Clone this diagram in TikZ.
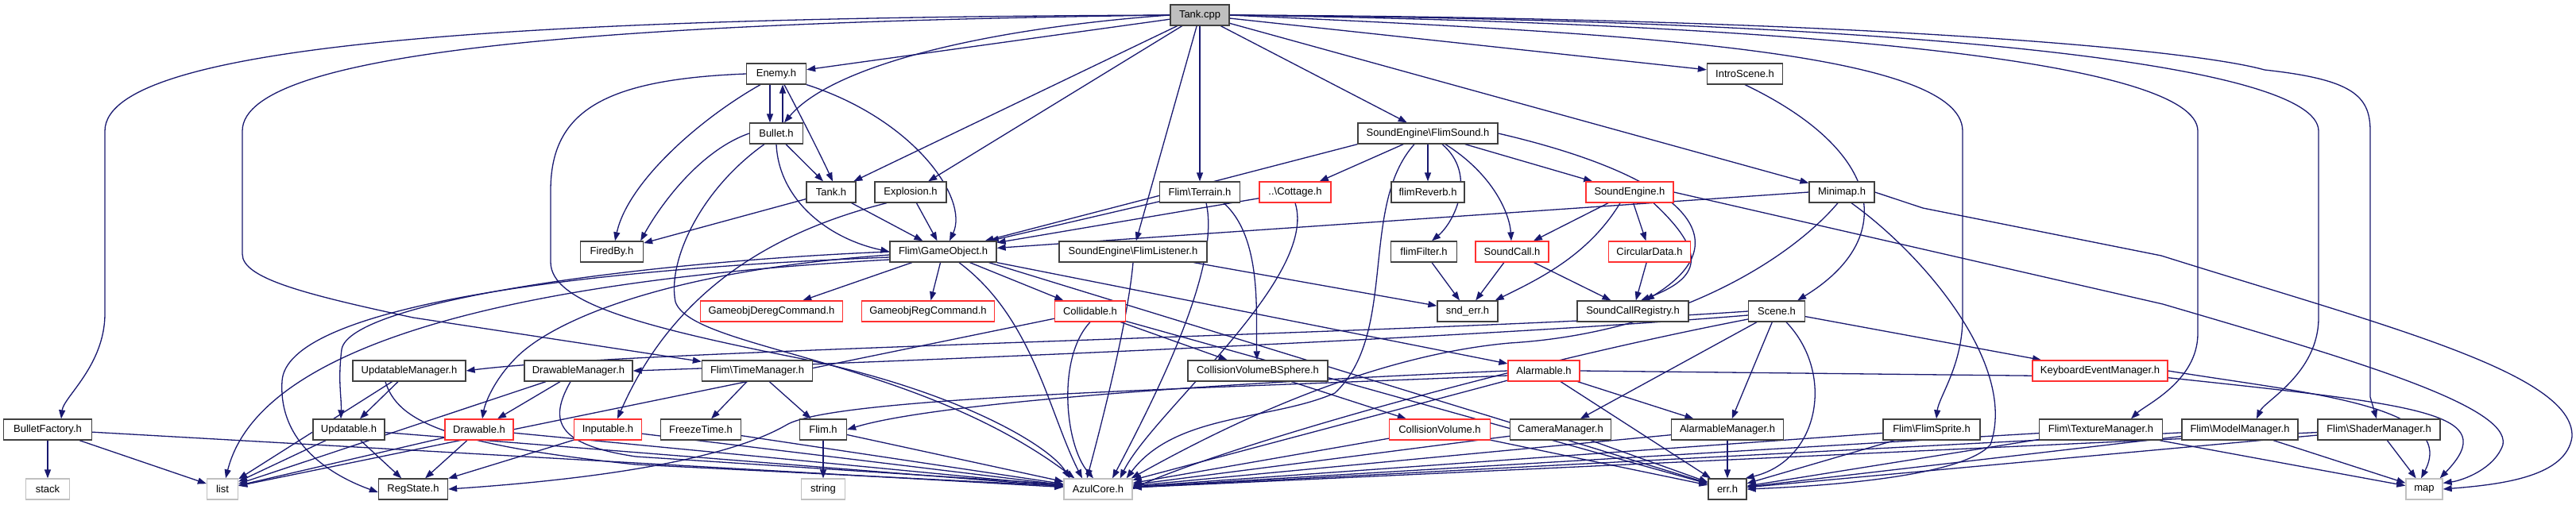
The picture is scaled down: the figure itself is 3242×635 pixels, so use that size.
\documentclass[tikz,border=0pt]{standalone}
\usepackage{fontspec}
\setmainfont{Liberation Sans}
\usetikzlibrary{arrows.meta}
\definecolor{edgec}{HTML}{191970}
\definecolor{redb}{HTML}{FF3030}
\definecolor{grayb}{HTML}{C0C0C0}
\definecolor{blackb}{HTML}{404040}
\definecolor{rootf}{HTML}{BFBFBF}
\pgfdeclarelayer{bg}
\pgfdeclarelayer{paper}
\pgfsetlayers{paper,bg,main}
\tikzset{
  box/.style={draw=blackb, line width=1.3pt, fill=white, minimum height=26pt, inner sep=0pt, font=\fontsize{13}{15}\selectfont},
  redbox/.style={box, draw=redb},
  graybox/.style={box, draw=grayb},
  rootbox/.style={box, fill=rootf},
  e/.style={draw=edgec, line width=1.3pt, -{Triangle[length=11pt,width=8pt]}},
}
\newcommand\edg[2]{\draw[e] (#1) -- (#2);}
\begin{document}
\begin{tikzpicture}[x=1pt,y=1pt]
\begin{pgfonlayer}{paper}
\fill[white] (0,0) rectangle (3242,-635);
\end{pgfonlayer}
\useasboundingbox (0,0) rectangle (3242,-635);
% row 0
\node[rootbox, minimum width=74pt] (tankcpp) at (1510,-19) {Tank.cpp};
% row 1
\node[box, minimum width=75pt] (enemy) at (977,-93) {Enemy.h};
\node[box, minimum width=95pt] (intro) at (2196,-93) {IntroScene.h};
% row 2
\node[box, minimum width=67pt] (bullet) at (977,-168) {Bullet.h};
\node[box, minimum width=176pt] (flimsound) at (1797,-168) {SoundEngine\textbackslash FlimSound.h};
% row 3
\node[box, minimum width=62pt] (tankh) at (1046,-242) {Tank.h};
\node[box, minimum width=90pt] (explosion) at (1146,-242) {Explosion.h};
\node[box, minimum width=101pt] (terrain) at (1510,-242) {Flim\textbackslash Terrain.h};
\node[redbox, minimum width=90pt] (cottage) at (1630,-242) {..\textbackslash Cottage.h};
\node[box, minimum width=92pt] (reverb) at (1797,-242) {flimReverb.h};
\node[redbox, minimum width=110pt] (soundengine) at (2051,-242) {SoundEngine.h};
\node[box, minimum width=82pt] (minimap) at (2318,-242) {Minimap.h};
% row 4
\node[box, minimum width=79pt] (firedby) at (770,-317) {FiredBy.h};
\node[box, minimum width=134pt] (gameobject) at (1187,-317) {Flim\textbackslash GameObject.h};
\node[box, minimum width=186pt] (listener) at (1426,-317) {SoundEngine\textbackslash FlimListener.h};
\node[box, minimum width=83pt] (filter) at (1792,-317) {flimFilter.h};
\node[redbox, minimum width=92pt] (soundcall) at (1903,-317) {SoundCall.h};
\node[redbox, minimum width=103pt] (circular) at (2076,-317) {CircularData.h};
% row 5
\node[redbox, minimum width=179pt] (dereg) at (971,-392) {GameobjDeregCommand.h};
\node[redbox, minimum width=167pt] (regcmd) at (1168,-392) {GameobjRegCommand.h};
\node[redbox, minimum width=89pt] (collidable) at (1372,-392) {Collidable.h};
\node[box, minimum width=76pt] (snderr) at (1847,-392) {snd\_err.h};
\node[box, minimum width=140pt] (registry) at (2055,-392) {SoundCallRegistry.h};
\node[box, minimum width=71pt] (scene) at (2236,-392) {Scene.h};
% row 6
\node[box, minimum width=142pt] (updmgr) at (515,-467) {UpdatableManager.h};
\node[box, minimum width=136pt] (drawmgr) at (728,-467) {DrawableManager.h};
\node[box, minimum width=139pt] (timemgr) at (953,-467) {Flim\textbackslash TimeManager.h};
\node[box, minimum width=176pt] (bsphere) at (1583,-467) {CollisionVolumeBSphere.h};
\node[redbox, minimum width=90pt] (alarmable) at (1943,-467) {Alarmable.h};
\node[redbox, minimum width=170pt] (keyboard) at (2643,-467) {KeyboardEventManager.h};
% row 7
\node[box, minimum width=111pt] (bulletfactory) at (60,-541) {BulletFactory.h};
\node[box, minimum width=90pt] (updatable) at (439,-541) {Updatable.h};
\node[redbox, minimum width=86pt] (drawable) at (603,-541) {Drawable.h};
\node[redbox, minimum width=85pt] (inputable) at (765,-541) {Inputable.h};
\node[box, minimum width=101pt] (freeze) at (882,-541) {FreezeTime.h};
\node[box, minimum width=59pt] (flimh) at (1036,-541) {Flim.h};
\node[redbox, minimum width=127pt] (colvol) at (1812,-541) {CollisionVolume.h};
\node[box, minimum width=127pt] (camera) at (1964,-541) {CameraManager.h};
\node[box, minimum width=141pt] (alarmmgr) at (2174,-541) {AlarmableManager.h};
\node[box, minimum width=122pt] (sprite) at (2431,-541) {Flim\textbackslash FlimSprite.h};
\node[box, minimum width=155pt] (texture) at (2644,-541) {Flim\textbackslash TextureManager.h};
\node[box, minimum width=146pt] (model) at (2819,-541) {Flim\textbackslash ModelManager.h};
\node[box, minimum width=154pt] (shader) at (2994,-541) {Flim\textbackslash ShaderManager.h};
% row 8
\node[graybox, minimum width=55pt] (stack) at (60,-616) {stack};
\node[graybox, minimum width=39pt] (list) at (280,-616) {list};
\node[box, minimum width=87pt] (regstate) at (520,-616) {RegState.h};
\node[graybox, minimum width=55pt] (string) at (1036,-616) {string};
\node[graybox, minimum width=86pt] (azul) at (1382,-616) {AzulCore.h};
\node[box, minimum width=48pt] (err) at (2174,-616) {err.h};
\node[graybox, minimum width=46pt] (map) at (3051,-616) {map};

\begin{pgfonlayer}{bg}
% Tank.cpp
\edg{tankcpp}{enemy}
\draw[e] (tankcpp.west) .. controls (1250,-35) and (1050,-80) .. ([xshift=10pt]bullet.north);
\edg{tankcpp}{tankh}
\edg{tankcpp}{explosion}
\edg{tankcpp}{terrain}
\edg{tankcpp}{listener}
\edg{tankcpp}{flimsound}
\edg{tankcpp}{intro}
\edg{tankcpp}{minimap}
\draw[e] (tankcpp.west) .. controls (700,-22) and (132,-50) .. (132,-165) -- (132,-395) .. controls (132,-460) and (80,-500) .. ([xshift=17pt]bulletfactory.north);
\draw[e] (tankcpp.west) .. controls (800,-28) and (305,-60) .. (305,-165) -- (305,-320) .. controls (305,-350) and (380,-370) .. (520,-400) -- ([yshift=-2pt]timemgr.north west);
\draw[e] (tankcpp.east) .. controls (2000,-40) and (2470,-60) .. (2470,-165) -- (2470,-400) .. controls (2470,-460) and (2440,-500) .. ([xshift=6pt]sprite.north);
\draw[e] (tankcpp.east) .. controls (2300,-30) and (2766,-80) .. (2766,-165) -- (2766,-420) .. controls (2766,-480) and (2700,-510) .. ([xshift=38pt]texture.north);
\draw[e] (tankcpp.east) .. controls (2400,-25) and (2918,-80) .. (2918,-165) -- (2918,-400) .. controls (2918,-470) and (2850,-505) .. ([xshift=21pt]model.north);
\draw[e] (tankcpp.east) .. controls (2300,-22) and (2750,-60) .. (2850,-88) .. controls (2960,-100) and (2983,-120) .. (2983,-165) -- (2983,-500) -- ([xshift=-3pt]shader.north);
% Enemy / Bullet
\draw[e] ([xshift=-8pt]enemy.south) -- ([xshift=-8pt]bullet.north);
\draw[e] ([xshift=8pt]bullet.north) -- ([xshift=8pt]enemy.south);
\draw[e] ([xshift=10pt]enemy.south) .. controls (1010,-150) and (1035,-200) .. ([xshift=2pt]tankh.north);
\draw[e] (enemy.south east) .. controls (1150,-150) and (1220,-250) .. ([xshift=8pt]gameobject.north);
\draw[e] ([xshift=-20pt]enemy.south) .. controls (880,-150) and (790,-230) .. ([xshift=4pt]firedby.north);
\draw[e] (enemy.west) .. controls (760,-100) and (693,-140) .. (693,-240) -- (693,-330) .. controls (693,-380) and (800,-410) .. (1000,-450) .. controls (1200,-490) and (1320,-560) .. ([xshift=8pt]azul.north west);
\draw[e] (bullet.west) .. controls (880,-190) and (830,-260) .. ([xshift=-4pt]firedby.north east);
\draw[e] ([xshift=12pt]bullet.south) -- ([xshift=-10pt]tankh.north);
\draw[e] (bullet.south) .. controls (980,-250) and (1040,-300) .. (gameobject.west);
\draw[e] ([xshift=-15pt]bullet.south) .. controls (880,-240) and (840,-330) .. (850,-380) .. controls (870,-440) and (1150,-450) .. ([xshift=14pt]azul.north west);
\edg{tankh}{firedby}
\edg{tankh}{gameobject}
\edg{explosion}{gameobject}
\draw[e] ([xshift=-30pt]explosion.south) .. controls (980,-290) and (850,-360) .. ([xshift=12pt]inputable.north);
% Terrain, Cottage
\edg{terrain}{gameobject}
\draw[e] ([xshift=8pt]terrain.south) .. controls (1535,-330) and (1470,-470) .. ([xshift=18pt]azul.north);
\draw[e] ([xshift=30pt]terrain.south) .. controls (1590,-300) and (1580,-400) .. ([xshift=-1pt]bsphere.north);
\edg{cottage}{gameobject}
\draw[e] (cottage.south) .. controls (1660,-350) and (1450,-520) .. ([xshift=-16pt]azul.north east);
% FlimSound
\edg{flimsound.south west}{gameobject}
\edg{flimsound}{cottage}
\edg{flimsound}{reverb}
\draw[e] ([xshift=18pt]flimsound.south) .. controls (1860,-220) and (1830,-280) .. ([xshift=10pt]filter.north);
\draw[e] ([xshift=22pt]flimsound.south) .. controls (1880,-220) and (1900,-270) .. ([xshift=-1pt]soundcall.north);
\edg{flimsound}{soundengine}
\draw[e] ([xshift=-17pt]flimsound.south) .. controls (1710,-260) and (1760,-420) .. (1680,-495) .. controls (1600,-530) and (1480,-520) .. ([xshift=-8pt]azul.north east);
\draw[e] (flimsound.east) .. controls (2110,-220) and (2200,-300) .. ([xshift=16pt]registry.north);
% SoundEngine
\edg{soundengine}{soundcall}
\edg{soundengine}{circular}
\draw[e] ([xshift=-12pt]soundengine.south) .. controls (2000,-320) and (1940,-350) .. ([xshift=-4pt]snderr.north east);
\draw[e] ([xshift=30pt]soundengine.south) .. controls (2150,-320) and (2140,-350) .. ([xshift=10pt]registry.north);
\draw[e] (soundengine.east) -- (2722,-383) .. controls (2950,-450) and (3160,-510) .. (3150,-560) .. controls (3140,-590) and (3100,-605) .. ([yshift=-6pt]map.north east);
% Minimap
\edg{minimap.west}{gameobject}
\draw[e] ([xshift=-5pt]minimap.south) .. controls (2250,-330) and (2100,-420) .. (1900,-432) .. controls (1700,-450) and (1500,-560) .. ([xshift=-2pt]azul.north east);
\draw[e] ([xshift=12pt]minimap.south) .. controls (2420,-320) and (2540,-460) .. (2505,-560) .. controls (2470,-600) and (2300,-612) .. (err.east);
\draw[e] (minimap.east) -- (2420,-262) -- (2720,-322) .. controls (3000,-410) and (3240,-470) .. (3237,-550) .. controls (3230,-600) and (3150,-610) .. (map.east);
% Listener, sound leaves
\draw[e] (listener.south) .. controls (1420,-400) and (1390,-520) .. ([xshift=-14pt]azul.north);
\edg{listener}{snderr}
\edg{filter}{snderr}
\edg{soundcall}{snderr}
\edg{soundcall}{registry}
\edg{circular}{registry}
\draw[e] (intro.south) .. controls (2370,-190) and (2390,-300) .. ([xshift=-10pt]scene.north east);
% GameObject
\edg{gameobject}{dereg}
\edg{gameobject}{regcmd}
\edg{gameobject}{collidable}
\draw[e] ([xshift=20pt]gameobject.south) .. controls (1300,-400) and (1320,-520) .. ([xshift=-20pt]azul.north);
\edg{gameobject.south east}{alarmable}
\draw[e] ([xshift=-10pt]gameobject.south east) -- (err);
\draw[e] (gameobject.west) .. controls (800,-330) and (440,-380) .. (430,-440) .. controls (425,-480) and (430,-500) .. ([xshift=-10pt]updatable.north);
\draw[e] ([yshift=-4pt]gameobject.west) .. controls (850,-340) and (700,-400) .. (650,-450) .. controls (620,-480) and (610,-510) .. ([xshift=4pt]drawable.north);
\draw[e] ([yshift=-7pt]gameobject.west) .. controls (700,-340) and (360,-390) .. (355,-480) .. controls (350,-560) and (420,-600) .. ([yshift=-4pt]regstate.west);
\draw[e] ([yshift=-10pt]gameobject.west) .. controls (700,-350) and (330,-420) .. ([xshift=4pt]list.north);
% Collidable
\edg{collidable}{list}
\draw[e] (collidable.south) .. controls (1330,-450) and (1340,-560) .. ([xshift=-6pt]azul.north);
\edg{collidable}{bsphere}
\edg{collidable}{err}
\edg{bsphere}{colvol}
\edg{colvol}{azul}
\edg{colvol}{err}
% Scene
\edg{scene}{keyboard}
\edg{scene}{camera}
\edg{scene}{alarmmgr}
\draw[e] ([xshift=12pt]scene.south) .. controls (2310,-470) and (2290,-580) .. ([xshift=-2pt]err.north east);
\draw[e] (scene.west) .. controls (1800,-420) and (800,-440) .. (updmgr.east);
\draw[e] ([yshift=-5pt]scene.west) .. controls (1800,-430) and (1000,-460) .. (drawmgr.east);
\draw[e] ([yshift=-10pt]scene.west) .. controls (1900,-460) and (1550,-560) .. ([xshift=-2pt]azul.east);
% Alarmable
\edg{alarmable}{alarmmgr}
\edg{alarmable}{err}
\edg{alarmable}{azul}
\draw[e] (alarmable.west) .. controls (1700,-475) and (1200,-500) .. (flimh.east);
\draw[e] ([yshift=-6pt]alarmable.west) .. controls (1500,-490) and (1050,-500) .. (990,-535) .. controls (930,-570) and (800,-600) .. (regstate.east);
\draw[e] (alarmable.east) -- (2722,-475) .. controls (3050,-510) and (3150,-520) .. ([xshift=-4pt]map.north east);
\draw[e] (keyboard.east) .. controls (2900,-495) and (3095,-510) .. ([xshift=-4pt]map.north);
\edg{alarmmgr}{err}
\edg{alarmmgr}{azul}
\edg{camera}{err}
\edg{camera}{azul}
% TimeManager etc
\edg{timemgr}{flimh}
\edg{timemgr}{freeze}
\edg{flimh}{string}
\edg{flimh}{azul}
\edg{freeze}{azul}
\edg{updmgr}{updatable}
\edg{updmgr}{list}
\draw[e] ([xshift=-30pt]updmgr.south) .. controls (500,-530) and (560,-560) .. (800,-585) -- ([yshift=4pt]azul.west);
\edg{drawmgr}{drawable}
\edg{drawmgr}{list}
\draw[e] ([xshift=-10pt]drawmgr.south) .. controls (690,-530) and (700,-560) .. (800,-575) -- ([yshift=6pt]azul.west);
\edg{updatable}{list}
\edg{updatable}{regstate}
\edg{updatable}{azul}
\edg{drawable}{list}
\edg{drawable}{regstate}
\edg{drawable}{azul}
\edg{inputable}{regstate}
\edg{inputable}{azul}
% bottom right
\edg{bulletfactory}{stack}
\edg{bulletfactory}{list}
\edg{bulletfactory}{azul}
\edg{sprite}{azul}
\edg{sprite}{err}
\edg{texture}{azul}
\edg{texture}{err}
\edg{texture}{map}
\edg{model}{azul}
\edg{model}{err}
\edg{model}{map}
\edg{shader}{azul}
\edg{shader}{err}
\edg{shader}{map}
\end{pgfonlayer}
\end{tikzpicture}
\end{document}
